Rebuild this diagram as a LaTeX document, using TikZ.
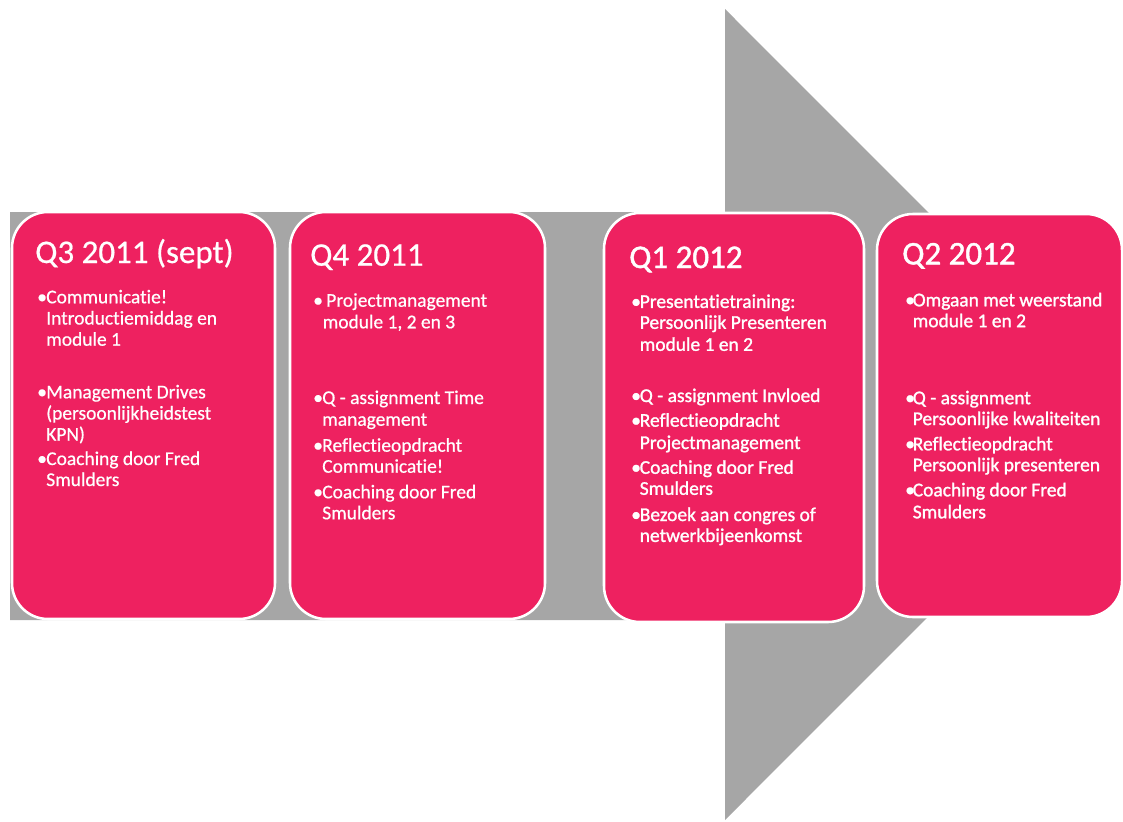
\documentclass[tikz,border=0pt]{standalone}
\usepackage{fontspec}
\setmainfont{Carlito}[Ligatures=NoCommon]
\newfontfamily\medfont{Carlito}[Ligatures=NoCommon,FakeBold=0.6]
\newfontfamily\heavyfont{Carlito}[Ligatures=NoCommon,FakeBold=1.3]
\definecolor{pinkq}{RGB}{238,33,96}
\definecolor{grayq}{RGB}{166,166,166}
\tikzset{
  arrowshape/.style={fill=grayq, draw=none},
  qbox/.style={fill=pinkq, draw=white, line width=1.9pt, rounded corners=27pt},
  qtitle/.style={text=white, inner sep=0pt, anchor=base west, font=\medfont\fontsize{24.75}{30}\selectfont},
  qline/.style={text=white, inner sep=0pt, anchor=base west, font=\medfont\fontsize{14.6}{17}\selectfont},
  qbul/.style={qline},
  heavy/.style={font=\heavyfont\fontsize{14.6}{17}\selectfont},
  heavyt/.style={font=\heavyfont\fontsize{24.75}{30}\selectfont}
}
\begin{document}
\begin{tikzpicture}[x=0.75pt,y=-0.75pt]
\useasboundingbox (0,0) rectangle (1123,821);
\clip (0,0) rectangle (1123,821);
% big arrow
\fill[arrowshape] (10,212) -- (725,212) -- (725,9) -- (1130,414.5) -- (725,820) -- (725,620) -- (10,620) -- cycle;
% boxes
\draw[qbox] (12,212) rectangle (275,619);
\draw[qbox] (290,212) rectangle (545,619);
\draw[qbox] (604,213) rectangle (864,622);
\draw[qbox] (877,214) rectangle (1122,617);

% box 1
\node[qtitle] (t1) at (35,263) {Q3 2011 (sept)};
\node[qbul] (b1a) at (37,303.3) {\textbullet};
\node[qline] (l1a) at (46,303.3) {Communicatie!};
\node[qline] (l1b) at (46,324.5) {Introductiemiddag en};
\node[qline] (l1c) at (46,345.7) {module 1};
\node[qbul] (b1b) at (37,398.3) {\textbullet};
\node[qline] (l1d) at (46,398.3) {Management Drives};
\node[qline] (l1e) at (46,419.5) {(persoonlijkheidstest};
\node[qline] (l1f) at (46,440.7) {KPN)};
\node[qbul] (b1c) at (37,465) {\textbullet};
\node[qline] (l1g) at (46,465) {Coaching door Fred};
\node[qline] (l1h) at (46,486) {Smulders};

% box 2
\node[qtitle] (t2) at (310,265.7) {Q4 2011};
\node[qbul] (b2a) at (313,306.7) {\textbullet};
\node[qline] (l2a) at (326,306.7) {Projectmanagement};
\node[qline] (l2b) at (322.5,328.3) {module 1, 2 en 3};
\node[qbul] (b2b) at (313,404) {\textbullet};
\node[qline] (l2c) at (322,404) {Q - assignment Time};
\node[qline] (l2d) at (322,425.7) {management};
\node[qbul] (b2c) at (313,451.7) {\textbullet};
\node[qline] (l2e) at (322,451.7) {Reflectieopdracht};
\node[qline] (l2f) at (322,472.7) {Communicatie!};
\node[qbul] (b2d) at (313,498.3) {\textbullet};
\node[qline] (l2g) at (322,498.3) {Coaching door Fred};
\node[qline] (l2h) at (322,519.3) {Smulders};

% box 3
\node[qtitle,heavyt] (t3) at (629,268) {Q1 2012};
\node[qbul,heavy] (b3a) at (631,307.9) {\textbullet};
\node[qline,heavy] (l3a) at (639.5,307.9) {Presentatietraining:};
\node[qline,heavy] (l3b) at (639.5,328.8) {Persoonlijk Presenteren};
\node[qline,heavy] (l3c) at (639.5,350.8) {module 1 en 2};
\node[qbul,heavy] (b3b) at (631,402) {\textbullet};
\node[qline,heavy] (l3d) at (639.5,402) {Q - assignment Invloed};
\node[qbul,heavy] (b3c) at (631,426.7) {\textbullet};
\node[qline,heavy] (l3e) at (639.5,426.7) {Reflectieopdracht};
\node[qline,heavy] (l3f) at (639.5,449) {Projectmanagement};
\node[qbul,heavy] (b3d) at (631,473.8) {\textbullet};
\node[qline,heavy] (l3g) at (639.5,473.8) {Coaching door Fred};
\node[qline,heavy] (l3h) at (639.5,494.8) {Smulders};
\node[qbul,heavy] (b3e) at (631,521) {\textbullet};
\node[qline,heavy] (l3i) at (639.5,521) {Bezoek aan congres of};
\node[qline,heavy] (l3j) at (639.5,541.9) {netwerkbijeenkomst};

% box 4
\node[qtitle,heavyt] (t4) at (902,264.4) {Q2 2012};
\node[qbul,heavy] (b4a) at (905,306.3) {\textbullet};
\node[qline,heavy] (l4a) at (912.5,306.3) {Omgaan met weerstand};
\node[qline,heavy] (l4b) at (912.5,327.2) {module 1 en 2};
\node[qbul,heavy] (b4b) at (905,404.2) {\textbullet};
\node[qline,heavy] (l4c) at (912.5,404.2) {Q - assignment};
\node[qline,heavy] (l4d) at (912.5,425.1) {Persoonlijke kwaliteiten};
\node[qbul,heavy] (b4c) at (905,450.3) {\textbullet};
\node[qline,heavy] (l4e) at (912.5,450.3) {Reflectieopdracht};
\node[qline,heavy] (l4f) at (912.5,471.2) {Persoonlijk presenteren};
\node[qbul,heavy] (b4d) at (905,496.3) {\textbullet};
\node[qline,heavy] (l4g) at (912.5,496.3) {Coaching door Fred};
\node[qline,heavy] (l4h) at (912.5,518.3) {Smulders};
\end{tikzpicture}
\end{document}
